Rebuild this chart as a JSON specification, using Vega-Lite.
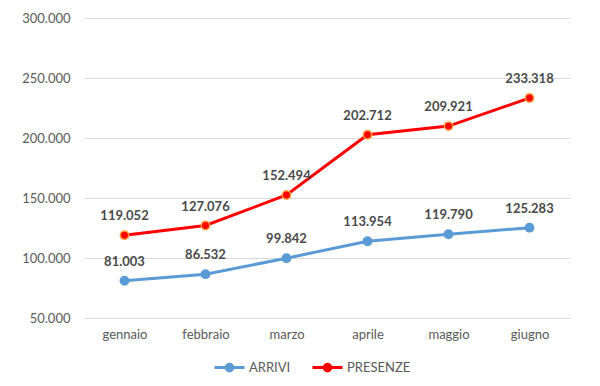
{
  "$schema": "https://vega.github.io/schema/vega-lite/v6.json",
  "autosize": "none",
  "width": 486,
  "height": 300,
  "padding": {"left": 84, "top": 18, "right": 30, "bottom": 68},
  "background": "white",
  "config": {
    "locale": {"number": {"decimal": ",", "thousands": ".", "grouping": [3], "currency": ["€", ""]}},
    "font": "Lato",
    "view": {"stroke": null}
  },
  "data": {
    "values": [
      {"mese": "gennaio", "serie": "ARRIVI", "valore": 81003},
      {"mese": "febbraio", "serie": "ARRIVI", "valore": 86532},
      {"mese": "marzo", "serie": "ARRIVI", "valore": 99842},
      {"mese": "aprile", "serie": "ARRIVI", "valore": 113954},
      {"mese": "maggio", "serie": "ARRIVI", "valore": 119790},
      {"mese": "giugno", "serie": "ARRIVI", "valore": 125283},
      {"mese": "gennaio", "serie": "PRESENZE", "valore": 119052},
      {"mese": "febbraio", "serie": "PRESENZE", "valore": 127076},
      {"mese": "marzo", "serie": "PRESENZE", "valore": 152494},
      {"mese": "aprile", "serie": "PRESENZE", "valore": 202712},
      {"mese": "maggio", "serie": "PRESENZE", "valore": 209921},
      {"mese": "giugno", "serie": "PRESENZE", "valore": 233318}
    ]
  },
  "encoding": {
    "x": {
      "field": "mese", "type": "ordinal",
      "sort": ["gennaio", "febbraio", "marzo", "aprile", "maggio", "giugno"],
      "scale": {"type": "point", "padding": 0.5},
      "axis": {"title": null, "labelAngle": 0, "ticks": false, "domain": false, "grid": false,
               "labelFontSize": 13, "labelColor": "#595959", "labelPadding": 10}
    },
    "y": {
      "field": "valore", "type": "quantitative",
      "scale": {"domain": [50000, 300000], "nice": false},
      "axis": {"title": null, "values": [50000, 100000, 150000, 200000, 250000, 300000], "format": ",.0f",
               "ticks": false, "domain": false, "gridColor": "#D9D9D9", "gridWidth": 1,
               "labelFontSize": 13, "labelColor": "#595959", "labelPadding": 14}
    }
  },
  "layer": [
    {
      "mark": {"type": "line", "strokeWidth": 3},
      "encoding": {
        "color": {
          "field": "serie", "type": "nominal",
          "scale": {"domain": ["ARRIVI", "PRESENZE"], "range": ["#5B9BD5", "#FF0000"]},
          "legend": {
            "title": null, "orient": "none", "direction": "horizontal",
            "legendX": 129, "legendY": 333,
            "symbolType": "M-1,0H-0.22M0.22,0H1M-0.22,0a0.22,0.22 0 1,0 0.44,0a0.22,0.22 0 1,0 -0.44,0",
            "symbolSize": 900, "symbolStrokeWidth": 3,
            "labelFontSize": 13, "labelColor": "#595959", "labelOffset": 3,
            "columnPadding": 15,
            "encode": {"symbols": {"update": {"fill": {"field": "value", "scale": "color"}}}}
          }
        }
      }
    },
    {
      "mark": {"type": "point", "filled": true, "size": 70, "opacity": 1, "strokeWidth": 1.5},
      "encoding": {
        "fill": {"field": "serie", "type": "nominal",
                 "scale": {"domain": ["ARRIVI", "PRESENZE"], "range": ["#5B9BD5", "#FF0000"]}, "legend": null},
        "stroke": {"field": "serie", "type": "nominal",
                   "scale": {"domain": ["ARRIVI", "PRESENZE"], "range": ["#5B9BD5", "#FFA040"]}, "legend": null}
      }
    },
    {
      "mark": {"type": "text", "dy": -19, "fontSize": 13, "fontWeight": "bold", "color": "#4a4a4a"},
      "encoding": {
        "text": {"field": "valore", "type": "quantitative", "format": ",.0f"}
      }
    }
  ]
}
